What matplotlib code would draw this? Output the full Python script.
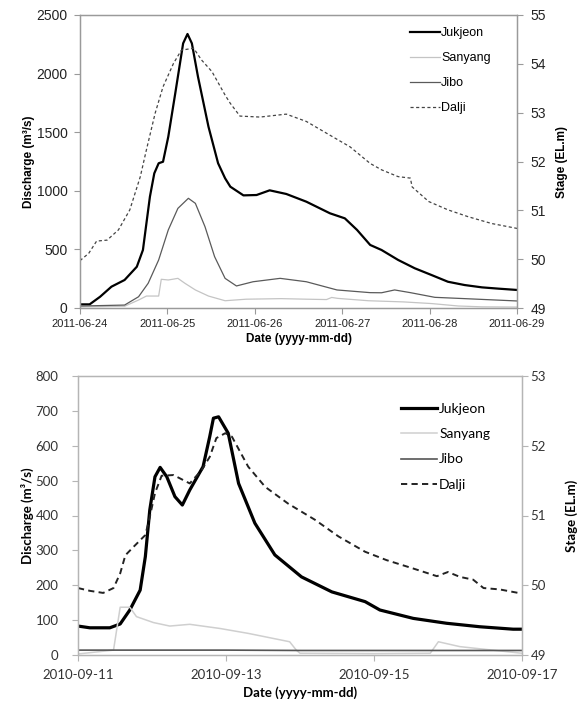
import matplotlib
matplotlib.use("Agg")
import matplotlib.pyplot as plt
import matplotlib.dates as mdates
import pandas as pd

# ---- top panel: June 2011 event (days since 2011-06-24 00:00) ----
start_a = pd.Timestamp("2011-06-24")
jukjeon_a_day = [0.0, 0.11, 0.23, 0.36, 0.51, 0.65, 0.72, 0.76, 0.80, 0.85, 0.90, 0.95, 1.01, 1.09,
                 1.18, 1.23, 1.28, 1.35, 1.47, 1.58, 1.66, 1.72, 1.87, 2.02, 2.17, 2.36, 2.59, 2.86,
                 3.03, 3.17, 3.32, 3.45, 3.64, 3.83, 4.02, 4.21, 4.40, 4.60, 4.79, 5.0]
jukjeon_a_q = [31, 31, 96, 182, 239, 352, 495, 723, 950, 1149, 1235, 1248, 1461, 1832,
               2258, 2338, 2258, 1973, 1547, 1235, 1107, 1035, 961, 964, 1004, 973, 907, 808,
               765, 666, 538, 495, 410, 339, 282, 224, 196, 176, 165, 154]
sanyang_a_day = [0.0, 0.51, 0.67, 0.76, 0.90, 0.93, 1.01, 1.12, 1.20, 1.32, 1.47, 1.66, 1.9, 2.3,
                 2.6, 2.82, 2.88, 2.95, 3.3, 3.7, 4.02, 4.33, 4.6, 5.0]
sanyang_a_q = [10, 15, 68, 102, 102, 245, 239, 253, 211, 154, 102, 62, 75, 80,
               75, 72, 90, 82, 62, 52, 38, 17, 10, 8]
jibo_a_day = [0.0, 0.51, 0.67, 0.78, 0.90, 1.01, 1.12, 1.24, 1.32, 1.43, 1.54, 1.66, 1.79, 1.98,
              2.29, 2.59, 2.94, 3.32, 3.45, 3.60, 3.78, 4.06, 4.40, 5.0]
jibo_a_q = [17, 25, 96, 211, 410, 666, 850, 936, 893, 694, 438, 253, 188, 224,
            253, 224, 154, 131, 130, 154, 131, 91, 80, 60]
dalji_a_day = [0.0, 0.10, 0.19, 0.31, 0.44, 0.57, 0.69, 0.76, 0.86, 0.95, 1.07, 1.16, 1.30, 1.39,
               1.51, 1.66, 1.72, 1.83, 2.06, 2.36, 2.59, 2.82, 3.09, 3.32, 3.45, 3.64, 3.78,
               3.80, 3.99, 4.21, 4.44, 4.71, 5.0]
dalji_a_stage = [49.97, 50.12, 50.37, 50.39, 50.60, 51.01, 51.69, 52.24, 52.99, 53.53, 54.01, 54.28,
                 54.32, 54.08, 53.84, 53.36, 53.19, 52.93, 52.91, 52.97, 52.82, 52.58, 52.30,
                 51.96, 51.83, 51.69, 51.66, 51.48, 51.18, 51.01, 50.87, 50.73, 50.63]

# ---- bottom panel: September 2010 event (days since 2010-09-11 00:00) ----
start_b = pd.Timestamp("2010-09-11")
jukjeon_b_day = [0.0, 0.16, 0.43, 0.57, 0.70, 0.84, 0.91, 0.97, 1.04, 1.11, 1.20, 1.31, 1.41, 1.51,
                 1.69, 1.78, 1.83, 1.90, 2.03, 2.17, 2.39, 2.66, 3.02, 3.43, 3.88, 4.08, 4.53,
                 4.98, 5.43, 5.88, 6.0]
jukjeon_b_q = [83, 78, 78, 89, 129, 186, 282, 416, 511, 538, 511, 454, 430, 473,
               540, 626, 679, 683, 636, 492, 378, 287, 224, 181, 153, 129, 105,
               91, 81, 74, 74]
sanyang_b_day = [0.0, 0.48, 0.57, 0.70, 0.79, 1.02, 1.24, 1.51, 1.92, 2.30, 2.86, 2.95, 3.0, 4.0,
                 4.76, 4.87, 5.16, 5.6, 6.0]
sanyang_b_q = [3, 14, 137, 137, 110, 93, 83, 88, 76, 62, 38, 14, 5, 4,
               5, 38, 24, 14, 5]
jibo_b_day = [0.0, 1.0, 2.0, 3.0, 4.0, 5.0, 6.0]
jibo_b_q = [14, 14, 14, 13, 13, 13, 13]
dalji_b_day = [0.0, 0.16, 0.34, 0.48, 0.57, 0.64, 0.75, 0.91, 0.97, 1.04, 1.13, 1.29, 1.51, 1.67,
               1.78, 1.87, 1.99, 2.08, 2.30, 2.53, 2.84, 3.20, 3.52, 3.88, 4.17, 4.53, 4.85,
               5.00, 5.16, 5.34, 5.48, 5.70, 5.95]
dalji_b_stage = [49.96, 49.92, 49.89, 49.96, 50.17, 50.43, 50.55, 50.72, 50.98, 51.32, 51.57, 51.58,
                 51.46, 51.65, 51.84, 52.11, 52.18, 52.13, 51.70, 51.41, 51.17, 50.94, 50.70,
                 50.48, 50.36, 50.24, 50.13, 50.19, 50.12, 50.08, 49.96, 49.94, 49.89]


def to_dates(start, days):
    return start + pd.to_timedelta(days, unit="D")


def style_frame(ax, ax2, color):
    for a in (ax, ax2):
        for s in a.spines.values():
            s.set_color(color)
            s.set_linewidth(0.9)
    ax.tick_params(axis="both", direction="out", length=4, color=color)
    ax2.tick_params(axis="y", direction="out", length=4, color=color)


fig = plt.figure(figsize=(5.81, 7.07), dpi=100)

# ================= top panel =================
font_a = "Liberation Sans"
ax1 = fig.add_axes([80 / 581, 1 - 308 / 707, 437 / 581, 293 / 707])
ax1b = ax1.twinx()
l1, = ax1.plot(to_dates(start_a, jukjeon_a_day), jukjeon_a_q, color="black", lw=1.6, label="Jukjeon")
l2, = ax1.plot(to_dates(start_a, sanyang_a_day), sanyang_a_q, color="#c4c4c4", lw=0.9, label="Sanyang")
l3, = ax1.plot(to_dates(start_a, jibo_a_day), jibo_a_q, color="#5a5a5a", lw=0.9, label="Jibo")
l4, = ax1b.plot(to_dates(start_a, dalji_a_day), dalji_a_stage, color="#444444", lw=0.9,
                dashes=(2.5, 2), label="Dalji")
ax1.set_xlim(start_a, start_a + pd.Timedelta(days=5))
ax1.set_ylim(0, 2500)
ax1b.set_ylim(49, 55)
ax1.set_yticks([0, 500, 1000, 1500, 2000, 2500])
ax1b.set_yticks([49, 50, 51, 52, 53, 54, 55])
ax1.xaxis.set_major_locator(mdates.DayLocator())
ax1.xaxis.set_major_formatter(mdates.DateFormatter("%Y-%m-%d"))
style_frame(ax1, ax1b, "#9a9a9a")
ax1.tick_params(axis="y", pad=5, labelsize=10, labelfontfamily=font_a, labelcolor="#222222")
ax1b.tick_params(axis="y", pad=6, labelsize=10, labelfontfamily=font_a, labelcolor="#222222")
ax1.tick_params(axis="x", pad=4, labelsize=8, labelfontfamily=font_a, labelcolor="#222222")
ax1.set_xlabel("Date (yyyy-mm-dd)", fontfamily=font_a, fontsize=8.5, fontweight="bold", labelpad=3)
ax1.set_ylabel("Discharge (m³/s)", fontfamily=font_a, fontsize=8.5, fontweight="bold", labelpad=1)
ax1b.set_ylabel("Stage (EL.m)", fontfamily=font_a, fontsize=8.5, fontweight="bold", labelpad=7)
fig.legend(handles=[l1, l2, l3, l4], loc="upper left", bbox_to_anchor=(410 / 581, 1 - 27 / 707),
           frameon=False, borderpad=0, borderaxespad=0, handlelength=2.4, handletextpad=0.1,
           labelspacing=1.05, prop={"family": font_a, "size": 9})

# ================= bottom panel =================
font_b = "Lato"
ax2 = fig.add_axes([78 / 581, 1 - 655 / 707, 444 / 581, 279 / 707])
ax2b = ax2.twinx()
m1, = ax2.plot(to_dates(start_b, jukjeon_b_day), jukjeon_b_q, color="black", lw=2.3, label="Jukjeon")
m2, = ax2.plot(to_dates(start_b, sanyang_b_day), sanyang_b_q, color="#cfcfcf", lw=1.1, label="Sanyang")
m3, = ax2.plot(to_dates(start_b, jibo_b_day), jibo_b_q, color="#555555", lw=1.2, label="Jibo")
m4, = ax2b.plot(to_dates(start_b, dalji_b_day), dalji_b_stage, color="#222222", lw=1.4,
                dashes=(3.2, 2.2), label="Dalji")
ax2.set_xlim(start_b, start_b + pd.Timedelta(days=6))
ax2.set_ylim(0, 800)
ax2b.set_ylim(49, 53)
ax2.set_yticks(range(0, 801, 100))
ax2b.set_yticks([49, 50, 51, 52, 53])
ax2.xaxis.set_major_locator(mdates.DayLocator(interval=2))
ax2.xaxis.set_major_formatter(mdates.DateFormatter("%Y-%m-%d"))
style_frame(ax2, ax2b, "#b5b5b5")
ax2.tick_params(axis="y", pad=10, labelsize=9.5, labelfontfamily=font_b, labelcolor="#333333")
ax2b.tick_params(axis="y", pad=2, labelsize=9.5, labelfontfamily=font_b, labelcolor="#333333")
ax2.tick_params(axis="x", pad=6, labelsize=9.5, labelfontfamily=font_b, labelcolor="#333333")
ax2.set_xlabel("Date (yyyy-mm-dd)", fontfamily=font_b, fontsize=9.5, fontweight="bold", labelpad=4)
ax2.set_ylabel("Discharge (m³/s)", fontfamily=font_b, fontsize=9.5, fontweight="bold", labelpad=1)
ax2b.set_ylabel("Stage (EL.m)", fontfamily=font_b, fontsize=9.5, fontweight="bold", labelpad=14)
fig.legend(handles=[m1, m2, m3, m4], loc="upper left", bbox_to_anchor=(401 / 581, 1 - 403 / 707),
           frameon=False, borderpad=0, borderaxespad=0, handlelength=2.6, handletextpad=0.15,
           labelspacing=0.95, prop={"family": font_b, "size": 10})

fig.savefig("out.png", dpi=100)
